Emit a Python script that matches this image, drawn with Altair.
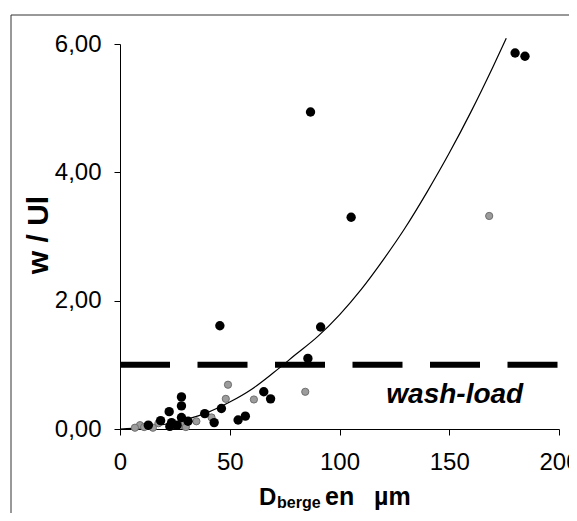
import altair as alt
import pandas as pd

# ---- data ----
black_x = [180.0, 184.5, 86.8, 105.3, 45.5, 91.4, 85.6, 65.5, 68.6, 46.2, 57.1, 53.8,
           42.9, 38.6, 28.0, 28.0, 22.4, 28.0, 31.0, 23.5, 22.7, 18.5, 12.9, 26.0]
black_y = [5.86, 5.81, 4.94, 3.30, 1.61, 1.59, 1.10, 0.58, 0.47, 0.32, 0.20, 0.14,
           0.10, 0.24, 0.50, 0.36, 0.27, 0.18, 0.12, 0.10, 0.04, 0.13, 0.06, 0.06]

grey_x = [168.2, 84.4, 49.2, 48.2, 61.0, 34.8, 9.1, 6.8, 11.0, 17.5, 28.7, 15.0, 30.0, 41.7]
grey_y = [3.32, 0.58, 0.69, 0.47, 0.46, 0.12, 0.06, 0.02, 0.03, 0.09, 0.06, 0.02, 0.03, 0.18]

curve_x = [0, 10, 20, 30, 40, 50, 60, 70, 80, 90, 100, 110, 120, 130, 140, 150, 160, 170, 176]
curve_y = [0.0, 0.02, 0.07, 0.15, 0.26, 0.42, 0.62, 0.88, 1.16, 1.44, 1.78, 2.18, 2.64,
           3.14, 3.70, 4.30, 4.95, 5.65, 6.09]

washload_x = [0, 200]
washload_y = [1.0, 1.0]

note_text = ["wash-load"]
note_x = [152.5]
note_y = [0.40]

x_ticks = [0, 50, 100, 150, 200]
y_ticks = [0, 2, 4, 6]

FONT = "Liberation Sans"

black_df = pd.DataFrame({"x": black_x, "y": black_y})
grey_df = pd.DataFrame({"x": grey_x, "y": grey_y})
curve_df = pd.DataFrame({"x": curve_x, "y": curve_y})
wash_df = pd.DataFrame({"x": washload_x, "y": washload_y})
note_df = pd.DataFrame({"x": note_x, "y": note_y, "t": note_text})
one = pd.DataFrame({"k": [0]})

x_axis = alt.Axis(values=x_ticks, format="d", title=None, grid=False,
                  labelFont=FONT, labelFontSize=24, labelColor="black",
                  domainColor="black", tickColor="black", tickSize=6,
                  labelPadding=15, labelFlush=False, labelOverlap=False)
y_axis = alt.Axis(values=y_ticks, title=None, grid=False,
                  labelExpr="replace(format(datum.value, '.2f'), '.', ',')",
                  labelFont=FONT, labelFontSize=24, labelColor="black",
                  domainColor="black", tickColor="black", tickSize=6,
                  labelPadding=13, labelFlush=False, labelOverlap=False)

x_scale = alt.Scale(domain=[0, 200], nice=False)
y_scale = alt.Scale(domain=[0, 6], nice=False)

X = alt.X("x:Q", scale=x_scale, axis=x_axis)
Y = alt.Y("y:Q", scale=y_scale, axis=y_axis)

wash = alt.Chart(wash_df).mark_line(color="black", strokeWidth=6,
                                    strokeDash=[50, 27.5]).encode(x=X, y=Y)
curve = alt.Chart(curve_df).mark_line(color="black", strokeWidth=1.2,
                                      interpolate="monotone").encode(x=X, y=Y)
grey = alt.Chart(grey_df).mark_point(filled=True, shape="circle", size=52,
                                     fill="#9c9c9c", stroke="#6e6e6e",
                                     strokeWidth=1, opacity=1).encode(x=X, y=Y)
black = alt.Chart(black_df).mark_point(filled=True, shape="circle", size=88,
                                       color="black", opacity=1).encode(x=X, y=Y)
note = alt.Chart(note_df).mark_text(font=FONT, fontSize=28, fontWeight="bold",
                                    fontStyle="italic", align="center",
                                    baseline="alphabetic", color="black").encode(
    x=X, y=Y, text="t:N")

# outer frame (decoration)
frame_left = alt.Chart(one).mark_rule(color="#333333", strokeWidth=1).encode(
    x=alt.value(-109), y=alt.value(-29), y2=alt.value(470))
frame_top = alt.Chart(one).mark_rule(color="#333333", strokeWidth=1).encode(
    x=alt.value(-109), x2=alt.value(450), y=alt.value(-29))

# axis titles
ytitle = alt.Chart(one).mark_text(text="w / Ul", font=FONT, fontSize=30,
                                  fontWeight="bold", angle=270, align="center",
                                  baseline="alphabetic", color="black").encode(
    x=alt.value(-72), y=alt.value(191))
xt_D = alt.Chart(one).mark_text(text="D", font=FONT, fontSize=24, fontWeight="bold",
                                align="left", baseline="alphabetic", color="black").encode(
    x=alt.value(139), y=alt.value(461))
xt_sub = alt.Chart(one).mark_text(text="berge", font=FONT, fontSize=16, fontWeight="bold",
                                  align="left", baseline="alphabetic", color="black").encode(
    x=alt.value(157), y=alt.value(464))
xt_en = alt.Chart(one).mark_text(text="en", font=FONT, fontSize=25, fontWeight="bold",
                                 align="left", baseline="alphabetic", color="black").encode(
    x=alt.value(205), y=alt.value(461))
xt_um = alt.Chart(one).mark_text(text="µm", font=FONT, fontSize=25, fontWeight="bold",
                                 align="left", baseline="alphabetic", color="black").encode(
    x=alt.value(254), y=alt.value(461))

chart = alt.layer(
    wash, curve, grey, black, note,
    frame_left, frame_top, ytitle, xt_D, xt_sub, xt_en, xt_um
).properties(
    width=439, height=385,
    padding={"left": 112, "top": 36, "right": 10, "bottom": 84},
    autosize=alt.AutoSizeParams(type="none"),
    background="white",
).configure_view(stroke=None)

chart.save("out.html", embed_options={"renderer": "svg", "actions": False})
